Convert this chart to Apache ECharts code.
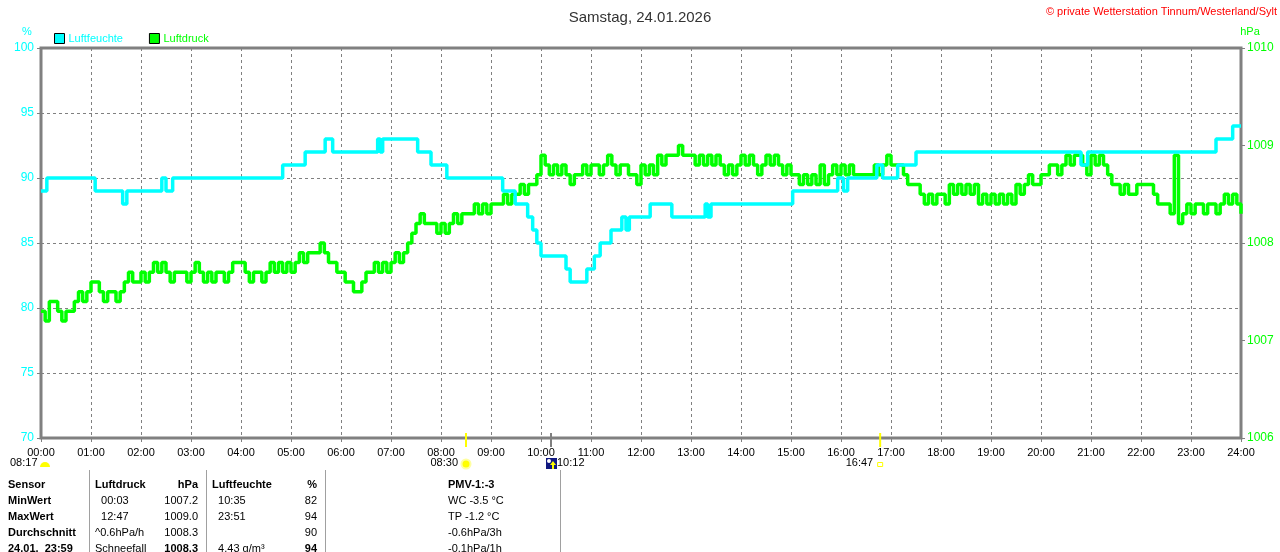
<!DOCTYPE html>
<html>
<head>
<meta charset="utf-8">
<title>Samstag, 24.01.2026</title>
<script src="https://cdn.jsdelivr.net/npm/echarts@6/dist/echarts.min.js"></script>
<style>
    html, body { margin: 0; padding: 0; background: #fff; }
    #chart { width: 1280px; height: 552px; }
</style>
</head>
<body>
<div id="chart"></div>
<script>
// Tageswerte Wetterstation

var titleText = 'Samstag, 24.01.2026';
var copyrightText = '\u00a9 private Wetterstation Tinnum/Westerland/Sylt';

// Luftfeuchte: Zeitpunkte der Aenderung und neuer Wert (%)
var humTimes = ['00:00', '00:07', '01:05', '01:38', '01:43', '02:25', '02:30', '02:38',
    '04:50', '05:17', '05:41', '05:50', '06:44', '06:47', '06:50', '07:32', '07:48', '08:07',
    '09:14', '09:29', '09:44', '09:50', '09:55', '10:00', '10:30', '10:35', '10:55', '11:04',
    '11:11', '11:24', '11:37', '11:42', '11:46', '12:11', '12:37', '13:17', '13:20', '13:24',
    '15:02', '15:56', '16:03', '16:08', '16:43', '16:50', '17:08', '17:30', '20:48', '20:56',
    '23:30', '23:50', '24:00'];
var humValues = [89, 90, 89, 88, 89, 90, 89, 90,
    91, 92, 93, 92, 93, 92, 93, 92, 91, 90,
    89, 88, 87, 86, 85, 84, 83, 82, 83, 84,
    85, 86, 87, 86, 87, 88, 87, 88, 87, 88,
    89, 90, 89, 90, 91, 90, 91, 92, 91, 92,
    93, 94, 94];

// Luftdruck alle 5 Minuten (hPa), eine Zeile je Stunde
var pressureStep = 5;
var pressure = [
    1007.3, 1007.2, 1007.4, 1007.4, 1007.3, 1007.2, 1007.3, 1007.3, 1007.4, 1007.5, 1007.4, 1007.5,
    1007.6, 1007.6, 1007.5, 1007.4, 1007.5, 1007.5, 1007.4, 1007.5, 1007.6, 1007.7, 1007.6, 1007.6,
    1007.7, 1007.6, 1007.7, 1007.8, 1007.7, 1007.8, 1007.7, 1007.6, 1007.7, 1007.7, 1007.7, 1007.6,
    1007.7, 1007.8, 1007.7, 1007.6, 1007.7, 1007.6, 1007.7, 1007.7, 1007.6, 1007.7, 1007.8, 1007.8,
    1007.8, 1007.7, 1007.6, 1007.7, 1007.7, 1007.6, 1007.7, 1007.8, 1007.7, 1007.8, 1007.7, 1007.8,
    1007.7, 1007.8, 1007.9, 1007.8, 1007.9, 1007.9, 1007.9, 1008.0, 1007.9, 1007.8, 1007.8, 1007.7,
    1007.7, 1007.6, 1007.6, 1007.5, 1007.5, 1007.6, 1007.7, 1007.7, 1007.8, 1007.7, 1007.8, 1007.7,
    1007.8, 1007.9, 1007.8, 1007.9, 1008.0, 1008.1, 1008.2, 1008.3, 1008.2, 1008.2, 1008.2, 1008.1,
    1008.2, 1008.1, 1008.2, 1008.3, 1008.2, 1008.3, 1008.3, 1008.3, 1008.4, 1008.3, 1008.4, 1008.3,
    1008.4, 1008.4, 1008.4, 1008.5, 1008.4, 1008.5, 1008.5, 1008.6, 1008.5, 1008.6, 1008.6, 1008.7,
    1008.9, 1008.8, 1008.7, 1008.8, 1008.7, 1008.8, 1008.7, 1008.6, 1008.7, 1008.7, 1008.8, 1008.7,
    1008.8, 1008.8, 1008.7, 1008.8, 1008.9, 1008.8, 1008.7, 1008.8, 1008.8, 1008.7, 1008.7, 1008.6,
    1008.8, 1008.7, 1008.8, 1008.7, 1008.9, 1008.8, 1008.9, 1008.9, 1008.9, 1009.0, 1008.9, 1008.9,
    1008.9, 1008.8, 1008.9, 1008.8, 1008.9, 1008.8, 1008.9, 1008.8, 1008.7, 1008.8, 1008.7, 1008.8,
    1008.9, 1008.8, 1008.9, 1008.8, 1008.7, 1008.8, 1008.9, 1008.8, 1008.9, 1008.8, 1008.7, 1008.8,
    1008.7, 1008.7, 1008.6, 1008.7, 1008.6, 1008.7, 1008.6, 1008.8, 1008.6, 1008.7, 1008.8, 1008.7,
    1008.8, 1008.7, 1008.8, 1008.7, 1008.7, 1008.7, 1008.7, 1008.7, 1008.8, 1008.7, 1008.8, 1008.9,
    1008.8, 1008.8, 1008.8, 1008.7, 1008.6, 1008.6, 1008.6, 1008.5, 1008.4, 1008.5, 1008.4, 1008.5,
    1008.5, 1008.4, 1008.6, 1008.5, 1008.6, 1008.5, 1008.6, 1008.5, 1008.6, 1008.4, 1008.5, 1008.4,
    1008.5, 1008.4, 1008.5, 1008.4, 1008.5, 1008.4, 1008.6, 1008.5, 1008.6, 1008.7, 1008.6, 1008.6,
    1008.7, 1008.7, 1008.8, 1008.8, 1008.7, 1008.8, 1008.9, 1008.8, 1008.9, 1008.9, 1008.8, 1008.7,
    1008.9, 1008.8, 1008.9, 1008.8, 1008.7, 1008.6, 1008.6, 1008.5, 1008.6, 1008.5, 1008.5, 1008.6,
    1008.6, 1008.6, 1008.6, 1008.5, 1008.4, 1008.4, 1008.4, 1008.3, 1008.9, 1008.2, 1008.3, 1008.4,
    1008.3, 1008.4, 1008.4, 1008.3, 1008.4, 1008.4, 1008.3, 1008.4, 1008.5, 1008.4, 1008.5, 1008.4,
    1008.3
];

// Achsen
var humAxis = [70, 100, 5];
var pressAxis = [1006, 1010, 1];

// Sonne / Mond
var dawnTime = '08:17';
var sunriseTime = '08:30';
var moonTime = '10:12';
var sunsetTime = '16:47';

// Tabelle unter dem Diagramm
var tableRows = [
    ['Sensor', 'Luftdruck', 'hPa', 'Luftfeuchte', '%', 'PMV-1:-3'],
    ['MinWert', '  00:03', '1007.2', '  10:35', '82', 'WC -3.5 \u00b0C'],
    ['MaxWert', '  12:47', '1009.0', '  23:51', '94', 'TP -1.2 \u00b0C'],
    ['Durchschnitt', '^0.6hPa/h', '1008.3', '', '90', '-0.6hPa/3h'],
    ['24.01.  23:59', 'Schneefall', '1008.3', '  4.43 g/m\u00b3', '94', '-0.1hPa/1h']
];

var CYAN = '#00ffff';
var GREEN = '#00ff00';
var GRAY = '#808080';
var FONT = '"Liberation Sans", Arial, sans-serif';

function toMin(hhmm) {
    var p = hhmm.split(':');
    return parseInt(p[0], 10) * 60 + parseInt(p[1], 10);
}

var humData = humTimes.map(function (t, i) { return [toMin(t), humValues[i]]; });
var pressData = pressure.map(function (v, i) { return [i * pressureStep, v]; });

var chart = echarts.init(document.getElementById('chart'));

var option = {
    animation: false,
    backgroundColor: '#fff',
    textStyle: { fontFamily: FONT, fontSize: 11 },
    title: {
        text: titleText,
        left: 'center',
        top: 5,
        textStyle: { fontFamily: FONT, fontSize: 15, fontWeight: 'normal', color: '#333' }
    },
    legend: {
        left: 49,
        top: 28,
        itemWidth: 10,
        itemHeight: 10,
        itemGap: 26,
        icon: 'rect',
        itemStyle: { borderColor: '#000', borderWidth: 1 },
        data: [
            { name: 'Luftfeuchte', textStyle: { color: CYAN } },
            { name: 'Luftdruck', textStyle: { color: GREEN } }
        ],
        textStyle: { fontFamily: FONT, fontSize: 11, padding: [0, 0, 0, -1] }
    },
    grid: {
        left: 41, right: 39, top: 48, bottom: 114,
        show: true,
        borderColor: GRAY,
        borderWidth: 3,
        containLabel: false
    },
    xAxis: {
        type: 'value',
        min: 0,
        max: 1440,
        interval: 60,
        axisLine: { show: false },
        axisTick: { show: true, length: 4, lineStyle: { color: GRAY, width: 1 } },
        axisLabel: {
            color: '#000',
            fontSize: 11,
            fontFamily: FONT,
            margin: 9,
            formatter: function (v) {
                var h = Math.round(v / 60);
                return (h < 10 ? '0' : '') + h + ':00';
            }
        },
        splitLine: { show: true, lineStyle: { color: GRAY, width: 1, type: [3, 3] } }
    },
    yAxis: [
        {
            type: 'value',
            min: humAxis[0], max: humAxis[1], interval: humAxis[2],
            position: 'left',
            axisLine: { show: false },
            axisTick: { show: true, length: 4, lineStyle: { color: GRAY } },
            axisLabel: { color: CYAN, fontSize: 12, fontFamily: FONT, margin: 7,
                formatter: function (v) { return String(v); } },
            splitLine: { show: true, lineStyle: { color: GRAY, width: 1, type: [3, 3] } }
        },
        {
            type: 'value',
            min: pressAxis[0], max: pressAxis[1], interval: pressAxis[2],
            position: 'right',
            axisLine: { show: false },
            axisTick: { show: true, length: 4, lineStyle: { color: GRAY } },
            axisLabel: { color: GREEN, fontSize: 12, fontFamily: FONT, margin: 6,
                formatter: function (v) { return String(v); } },
            splitLine: { show: false }
        }
    ],
    series: [
        {
            name: 'Luftdruck',
            type: 'line',
            yAxisIndex: 1,
            step: 'end',
            showSymbol: false,
            color: GREEN,
            lineStyle: { color: GREEN, width: 3.5 },
            data: pressData,
            z: 2
        },
        {
            name: 'Luftfeuchte',
            type: 'line',
            yAxisIndex: 0,
            step: 'end',
            showSymbol: false,
            color: CYAN,
            lineStyle: { color: CYAN, width: 3.5 },
            data: humData,
            z: 3
        }
    ]
};

chart.setOption(option);

// Zusatzgrafik: Beschriftungen, Sonnenmarken, Tabelle
function xPix(hhmm) {
    return chart.convertToPixel({ xAxisIndex: 0 }, toMin(hhmm));
}

function txt(x, y, s, color, align, bold, size) {
    return {
        type: 'text', x: x, y: y, silent: true,
        style: {
            text: s, fill: color || '#000',
            font: (bold ? 'bold ' : '') + (size || 11) + 'px ' + FONT,
            textAlign: align || 'left', align: align || 'left',
            textVerticalAlign: 'middle', verticalAlign: 'middle'
        }
    };
}

function vline(x, y1, y2, color, w) {
    return {
        type: 'line', silent: true,
        shape: { x1: x, y1: y1, x2: x, y2: y2 },
        style: { stroke: color, lineWidth: w || 1 }
    };
}

var g = [];
g.push(txt(1277, 12, copyrightText, '#ff0000', 'right', false, 11));
g.push(txt(27, 32, '%', CYAN, 'center', false, 11));
g.push(txt(1250, 32, 'hPa', GREEN, 'center', false, 11));

// Marken an der Zeitachse
var xr = xPix(sunriseTime), xm = xPix(moonTime), xs = xPix(sunsetTime);
g.push(vline(xr, 433, 447, '#ffff00', 2));
g.push(vline(xs, 433, 447, '#ffff00', 2));
g.push(vline(xm, 433, 447, GRAY, 2));

// Daemmerung links
g.push(txt(10, 463, dawnTime, '#000', 'left'));
g.push({ type: 'sector', silent: true, shape: { cx: 45, cy: 467, r: 5, r0: 0, startAngle: Math.PI, endAngle: 2 * Math.PI },
    style: { fill: '#ffff00' } });

// Sonnenaufgang
g.push(txt(xr - 8, 463, sunriseTime, '#000', 'right'));
g.push({ type: 'circle', silent: true, shape: { cx: xr, cy: 464, r: 5.5 }, style: { fill: '#ffffa0' } });
g.push({ type: 'circle', silent: true, shape: { cx: xr, cy: 464, r: 3.5 }, style: { fill: '#ffff00' } });

// Mond
g.push({ type: 'rect', silent: true, shape: { x: xm - 5, y: 458, width: 11, height: 11 }, style: { fill: '#101880' } });
g.push({ type: 'circle', silent: true, shape: { cx: xm - 2, cy: 461, r: 2 }, style: { fill: '#ffffff' } });
g.push({ type: 'polygon', silent: true, shape: { points: [[xm + 2, 461], [xm - 1, 465], [xm + 1, 465], [xm + 1, 469], [xm + 3, 469], [xm + 3, 465], [xm + 5, 465]] },
    style: { fill: '#ffff00' } });
g.push(txt(xm + 6, 463, moonTime, '#000', 'left'));

// Sonnenuntergang
g.push(txt(xs - 7, 463, sunsetTime, '#000', 'right'));
g.push({ type: 'rect', silent: true, shape: { x: xs - 2.5, y: 462.5, width: 5, height: 4 },
    style: { fill: 'none', stroke: '#ffff00', lineWidth: 1 } });

// Tabelle
var colX = [8, 95, 198, 212, 317, 448];
var colAlign = ['left', 'left', 'right', 'left', 'right', 'left'];
var rowY0 = 485, rowH = 16;
[89, 206, 325, 560].forEach(function (x) {
    g.push(vline(x + 0.5, 470, 552, '#a0a0a0', 1));
});
tableRows.forEach(function (row, r) {
    row.forEach(function (cell, c) {
        if (!cell) return;
        var bold = r === 0 || c === 0 || (r === 4 && (c === 2 || c === 4));
        g.push(txt(colX[c], rowY0 + r * rowH, cell, '#000', colAlign[c], bold, 11));
    });
});

chart.setOption({ graphic: g });
</script>
</body>
</html>
